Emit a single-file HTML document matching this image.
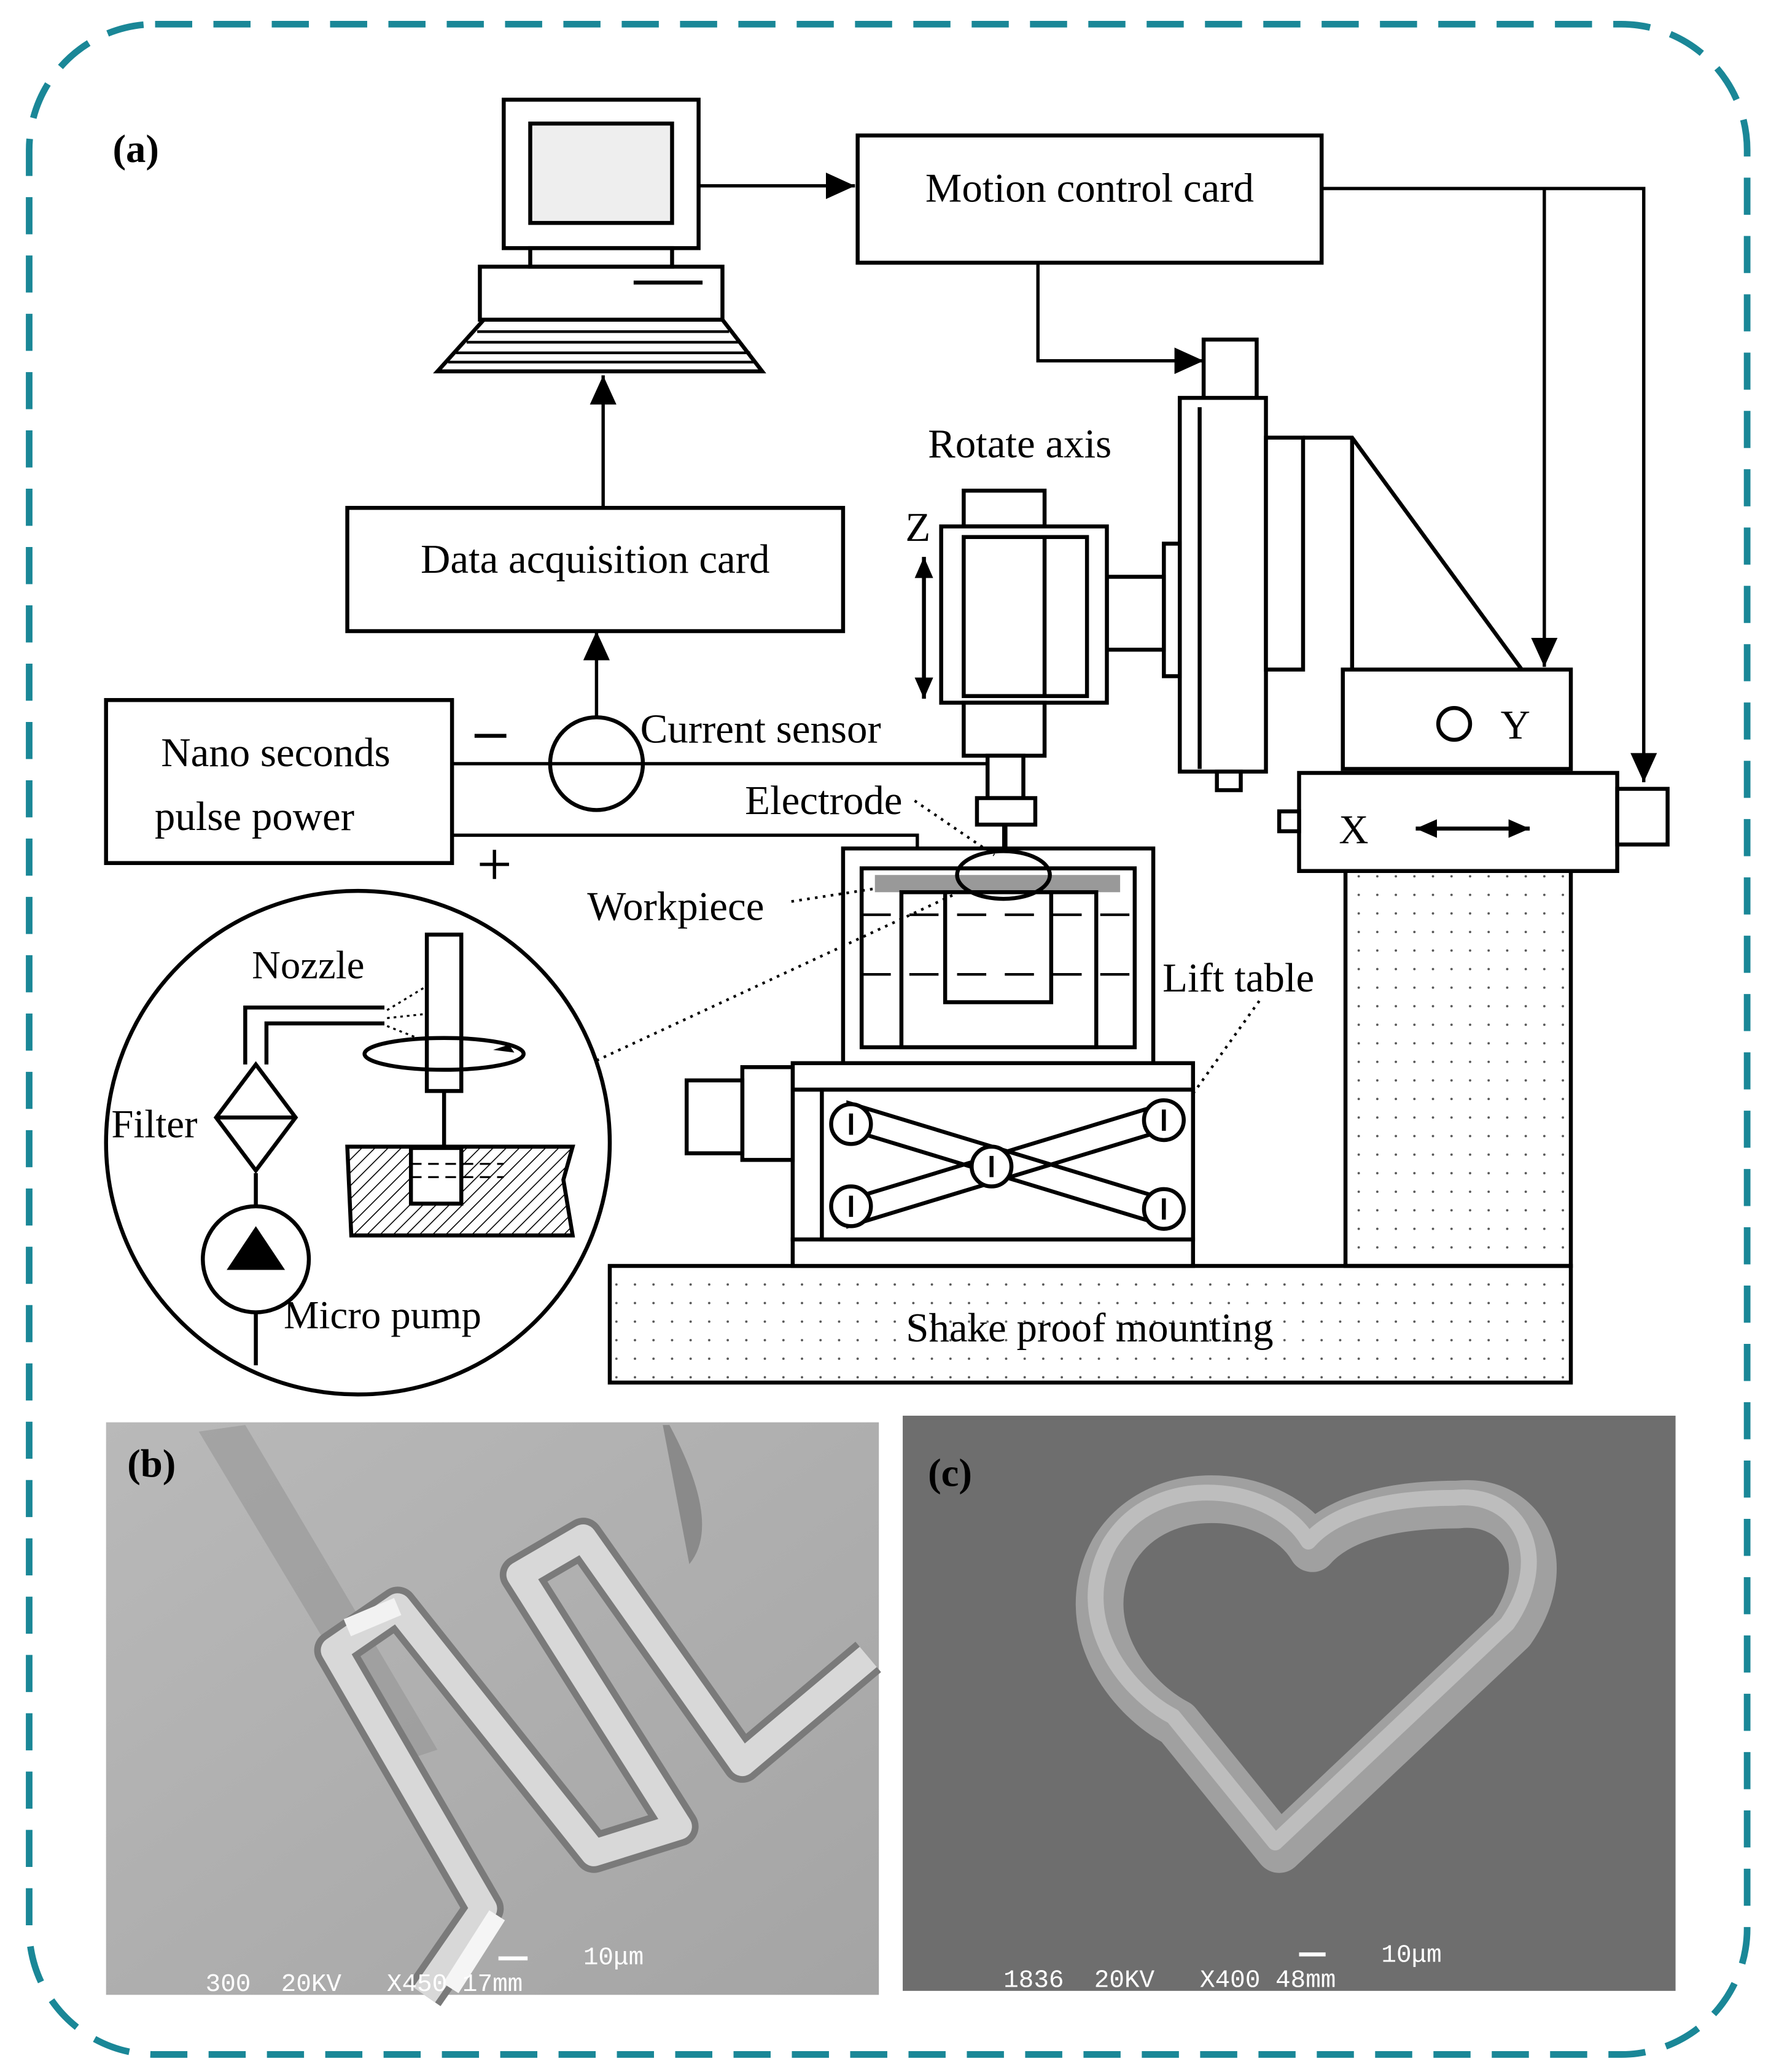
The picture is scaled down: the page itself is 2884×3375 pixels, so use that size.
<!DOCTYPE html>
<html><head><meta charset="utf-8"><style>
html,body{margin:0;padding:0;background:#fff}
svg{display:block}
.s{font-family:"Liberation Serif",serif;fill:#000}
.m{font-family:"Liberation Mono",monospace;fill:#fff}
</style></head><body>
<svg width="2884" height="3375" viewBox="0 0 1336 1563" xmlns="http://www.w3.org/2000/svg">
<defs>
<pattern id="dots" width="14" height="14" patternUnits="userSpaceOnUse"><circle cx="3" cy="3" r="0.9" fill="#555"/></pattern>
<pattern id="hatch" width="7" height="7" patternUnits="userSpaceOnUse" patternTransform="rotate(45)"><line x1="0" y1="0" x2="0" y2="7" stroke="#000" stroke-width="1.5"/></pattern>
<marker id="ah" markerWidth="16" markerHeight="14" refX="16" refY="7" orient="auto-start-reverse" markerUnits="userSpaceOnUse"><path d="M0,0 L16,7 L0,14 Z" fill="#000"/></marker>
<marker id="ab" markerWidth="22" markerHeight="20" refX="22" refY="10" orient="auto" markerUnits="userSpaceOnUse"><path d="M0,0 L22,10 L0,20 Z" fill="#000"/></marker>
<linearGradient id="gb" x1="0" y1="0" x2="1" y2="1"><stop offset="0" stop-color="#b9b9b9"/><stop offset="1" stop-color="#a4a4a4"/></linearGradient>
</defs>
<rect x="22" y="18" width="1296" height="1532" rx="95" fill="none" stroke="#1a8797" stroke-width="5" stroke-dasharray="28 16"/>
<text class="s" x="85" y="122" font-size="30" font-weight="bold">(a)</text>

<g fill="none" stroke="#000" stroke-width="3">
<rect x="380" y="75" width="147" height="112" fill="#fff"/>
<rect x="400" y="93" width="107" height="75" fill="#eee"/>
<rect x="400" y="187" width="107" height="14"/>
<rect x="362" y="201" width="183" height="40"/>
<line x1="478" y1="213" x2="530" y2="213"/>
<path d="M365,241 L545,241 L575,280 L330,280 Z"/>
<path d="M360,250 H550 M352,258 H558 M344,266 H566 M338,273 H570" stroke-width="2"/>
<rect x="647" y="102" width="350" height="96"/>
<rect x="262" y="383" width="374" height="93"/>
<rect x="80" y="528" width="261" height="123"/>
<circle cx="450" cy="576" r="35"/>
</g>
<g stroke="#000" stroke-width="2.5" fill="none">
<line x1="527" y1="140" x2="645" y2="140" marker-end="url(#ab)"/>
<polyline points="997,142 1240,142 1240,590" marker-end="url(#ab)"/>
<line x1="1165" y1="142" x2="1165" y2="503" marker-end="url(#ab)"/>
<polyline points="783,198 783,272 908,272" marker-end="url(#ab)"/>
<line x1="455" y1="383" x2="455" y2="283" marker-end="url(#ab)"/>
<line x1="450" y1="541" x2="450" y2="476" marker-end="url(#ab)"/>
<line x1="341" y1="576" x2="745" y2="576"/>
<polyline points="341,630 692,630 692,662"/>
<line x1="358" y1="555" x2="382" y2="555" stroke-width="3"/>
<path d="M362,652 H384 M373,641 V663" stroke-width="2.5"/>
</g>
<text class="s" x="822" y="152" font-size="31" text-anchor="middle">Motion control card</text>
<text class="s" x="449" y="432" font-size="31" text-anchor="middle">Data acquisition card</text>
<text class="s" x="208" y="578" font-size="31" text-anchor="middle">Nano seconds</text>
<text class="s" x="192" y="626" font-size="31" text-anchor="middle">pulse power</text>
<text class="s" x="483" y="560" font-size="31">Current sensor</text>
<text class="s" x="700" y="345" font-size="31">Rotate axis</text>
<text class="s" x="562" y="614" font-size="31">Electrode</text>
<text class="s" x="443" y="694" font-size="31">Workpiece</text>
<text class="s" x="877" y="748" font-size="31">Lift table</text>
<text class="s" x="683" y="408" font-size="31">Z</text>

<g fill="#fff" stroke="#000" stroke-width="3">
<rect x="1015" y="657" width="170" height="298" fill="url(#dots)"/>
<rect x="460" y="955" width="725" height="88" fill="url(#dots)"/>
<rect x="908" y="256" width="40" height="51"/>
<rect x="890" y="300" width="65" height="282"/>
<line x1="905" y1="307" x2="905" y2="580"/>
<rect x="918" y="582" width="18" height="14"/>
<rect x="878" y="410" width="12" height="100"/>
<rect x="835" y="435" width="43" height="55"/>
<rect x="955" y="330" width="28" height="175"/>
<polyline points="983,330 1020,330 1148,505" fill="none"/>
<line x1="1020" y1="330" x2="1020" y2="505"/>
<rect x="1013" y="505" width="172" height="75"/>
<circle cx="1097" cy="546" r="12"/>
<rect x="980" y="583" width="240" height="74"/>
<rect x="1220" y="595" width="38" height="42"/>
<rect x="965" y="612" width="15" height="15"/>
<rect x="727" y="370" width="61" height="27"/>
<rect x="710" y="397" width="125" height="133"/>
<rect x="727" y="405" width="93" height="120"/>
<line x1="788" y1="405" x2="788" y2="525"/>
<rect x="727" y="530" width="61" height="40"/>
<rect x="745" y="570" width="27" height="32"/>
<rect x="737" y="602" width="44" height="20"/>
<line x1="758" y1="622" x2="758" y2="660" stroke-width="4"/>
<rect x="636" y="640" width="234" height="162"/>
<rect x="650" y="655" width="206" height="135"/>
<rect x="660" y="660" width="185" height="13" fill="#999" stroke="none"/>
<rect x="680" y="673" width="147" height="117" fill="none"/>
<rect x="713" y="673" width="80" height="83" fill="none"/>
<ellipse cx="757" cy="660" rx="35" ry="18" fill="none"/>
<rect x="598" y="802" width="302" height="20"/>
<rect x="598" y="935" width="302" height="20"/>
<rect x="598" y="822" width="302" height="113"/>
<rect x="620" y="822" width="280" height="113"/>
<rect x="560" y="805" width="38" height="70"/>
<rect x="518" y="815" width="42" height="55"/>
<path d="M640,832 L880,905 L880,925 L640,852 Z M640,905 L880,832 L880,852 L640,925 Z" fill="none"/>
<circle cx="642" cy="848" r="15"/><circle cx="878" cy="845" r="15"/>
<circle cx="748" cy="880" r="15"/><circle cx="642" cy="910" r="15"/><circle cx="878" cy="912" r="15"/>
</g>
<path d="M642,840 V856 M878,837 V853 M748,872 V888 M642,902 V918 M878,904 V920" stroke="#000" stroke-width="3"/>
<g stroke="#000" stroke-width="2" stroke-dasharray="22 14">
<line x1="650" y1="690" x2="856" y2="690"/>
<line x1="650" y1="735" x2="856" y2="735"/>
</g>
<text class="s" x="1132" y="557" font-size="31">Y</text>
<text class="s" x="1010" y="636" font-size="31">X</text>
<line x1="1068" y1="625" x2="1154" y2="625" stroke="#000" stroke-width="3" marker-start="url(#ah)" marker-end="url(#ah)"/>
<line x1="697" y1="420" x2="697" y2="527" stroke="#000" stroke-width="3" marker-start="url(#ah)" marker-end="url(#ah)"/>
<text class="s" x="822" y="1012" font-size="31" text-anchor="middle">Shake proof mounting</text>
<g stroke="#000" stroke-width="2" stroke-dasharray="2 4" fill="none">
<line x1="690" y1="604" x2="750" y2="645"/>
<line x1="597" y1="680" x2="662" y2="670"/>
<line x1="450" y1="800" x2="730" y2="670"/>
<line x1="900" y1="825" x2="950" y2="755"/>
</g>
<g fill="none" stroke="#000" stroke-width="3">
<circle cx="270" cy="862" r="190"/>
<polyline points="193,1030 193,985"/>
<circle cx="193" cy="950" r="40" fill="#fff"/>
<polyline points="193,910 193,885"/>
<path d="M193,803 L223,843 L193,883 L163,843 Z" fill="#fff"/>
<line x1="163" y1="843" x2="223" y2="843"/>
<polyline points="185,803 185,760 290,760"/>
<polyline points="201,803 201,772 290,772"/>
<rect x="322" y="705" width="26" height="118"/>
<line x1="335" y1="823" x2="335" y2="890"/>
<ellipse cx="335" cy="795" rx="60" ry="12"/>
<path d="M262,865 L432,865 L425,890 L432,932 L265,932 Z" fill="url(#hatch)"/>
<rect x="310" y="866" width="38" height="42" fill="#fff"/>
</g>
<path d="M193,925 L215,958 L171,958 Z" fill="#000"/>
<path d="M372,792 l12,-4 l4,6 z" fill="#000"/>
<g stroke="#000" stroke-width="1.5" stroke-dasharray="2 3"><line x1="292" y1="762" x2="320" y2="745"/><line x1="292" y1="768" x2="320" y2="765"/><line x1="292" y1="774" x2="320" y2="785"/></g>
<g stroke="#000" stroke-width="1.5" stroke-dasharray="8 5"><line x1="310" y1="878" x2="380" y2="878"/><line x1="310" y1="888" x2="380" y2="888"/></g>
<text class="s" x="190" y="738" font-size="30">Nozzle</text>
<text class="s" x="84" y="858" font-size="30">Filter</text>
<text class="s" x="214" y="1002" font-size="30">Micro pump</text>

<!-- SEM b -->
<rect x="80" y="1073" width="583" height="432" fill="url(#gb)"/>
<path d="M150,1080 L300,1330 L330,1320 L185,1075 Z" fill="#8f8f8f" opacity="0.5"/>
<path d="M505,1075 Q545,1150 520,1180 L500,1075 Z" fill="#8a8a8a"/>
<g fill="none" stroke-linejoin="round">
<polyline points="320,1505 365,1440 252,1245 300,1212 448,1398 512,1378 392,1188 440,1160 560,1330 655,1250" stroke="#7a7a7a" stroke-width="30"/>
<polyline points="320,1505 365,1440 252,1245 300,1212 448,1398 512,1378 392,1188 440,1160 560,1330 655,1250" stroke="#d8d8d8" stroke-width="20"/>
<polyline points="340,1500 375,1445" stroke="#f5f5f5" stroke-width="14"/>
<polyline points="262,1228 300,1212" stroke="#f2f2f2" stroke-width="14"/>
</g>
<text class="s" x="96" y="1114" font-size="30" font-weight="bold">(b)</text>
<text class="m" x="440" y="1482" font-size="19">10μm</text>
<text class="m" x="155" y="1502" font-size="19" xml:space="preserve">300  20KV   X450 17mm</text>
<rect x="376" y="1476" width="22" height="3" fill="#fff"/>
<!-- SEM c -->
<rect x="681" y="1068" width="583" height="434" fill="#6e6e6e"/>
<path d="M990,1168 C965,1125 875,1112 840,1170 C810,1225 850,1280 888,1300 L965,1395 L1140,1230 C1175,1180 1150,1130 1100,1135 C1050,1135 1010,1145 990,1168 Z" fill="none" stroke="#a0a0a0" stroke-width="36" stroke-linejoin="round"/>
<path d="M990,1168 C965,1125 875,1112 840,1170 C810,1225 850,1280 888,1300 L965,1395 L1140,1230 C1175,1180 1150,1130 1100,1135 C1050,1135 1010,1145 990,1168 Z" fill="none" stroke="#bdbdbd" stroke-width="12" stroke-linejoin="round" transform="translate(-3,-5)"/>
<text class="s" x="700" y="1121" font-size="30" font-weight="bold">(c)</text>
<text class="m" x="1042" y="1480" font-size="19">10μm</text>
<text class="m" x="757" y="1499" font-size="19" xml:space="preserve">1836  20KV   X400 48mm</text>
<rect x="980" y="1473" width="20" height="3" fill="#fff"/>
</svg>
</body></html>
